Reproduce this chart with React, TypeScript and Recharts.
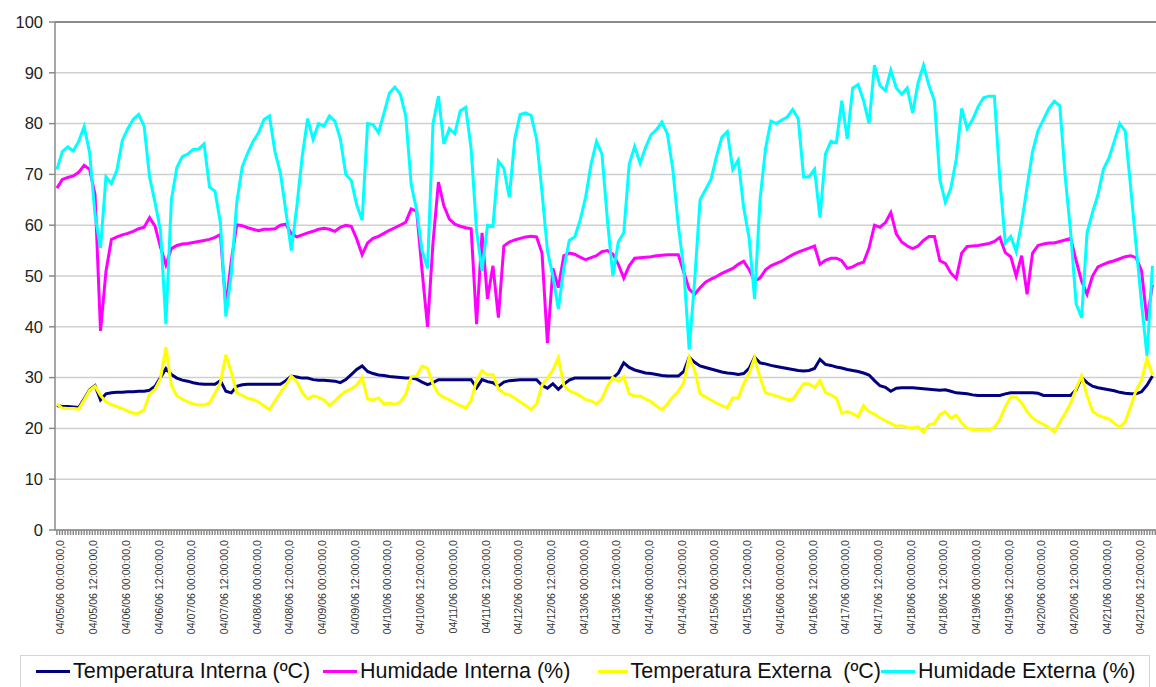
import { CartesianGrid, Line, LineChart, ReferenceLine, XAxis, YAxis } from "recharts";

// readings every 2 hours starting 04/05/06 00:00
const startHour = 0;
const stepHours = 2;

const tempInterna = [
  24.5, 24.3, 24.3, 24.2, 24.1,
  25.8, 27.6, 28.4, 25.6, 26.8,
  27.0, 27.1, 27.1, 27.2, 27.2, 27.3, 27.3, 27.5, 28.3, 30.0,
  31.8, 30.6, 29.9, 29.5, 29.3, 29.0, 28.8, 28.7, 28.7, 28.7,
  29.4, 27.3, 27.0, 28.3, 28.6, 28.7, 28.7, 28.7, 28.7, 28.7,
  28.7, 28.7, 29.4, 30.3, 30.1, 29.9, 29.9, 29.6, 29.5, 29.5,
  29.4, 29.3, 29.0, 29.6, 30.6, 31.6, 32.3, 31.2, 30.8, 30.5,
  30.4, 30.2, 30.1, 30.0, 29.9, 29.9, 29.7, 29.1, 28.6, 29.0,
  29.6, 29.6, 29.6, 29.6, 29.6, 29.6, 29.6, 28.0, 29.6, 29.2,
  29.0, 28.3, 29.1, 29.4, 29.5, 29.6, 29.6, 29.6, 29.6, 28.5,
  27.9, 28.8, 27.7, 28.7, 29.5, 29.9, 29.9, 29.9, 29.9, 29.9,
  29.9, 29.9, 29.9, 30.9, 32.9, 32.0, 31.5, 31.2, 30.9, 30.8,
  30.6, 30.4, 30.3, 30.3, 30.3, 31.2, 34.0, 33.0, 32.3, 32.0,
  31.7, 31.4, 31.1, 30.9, 30.8, 30.6, 30.8, 31.8, 34.0, 32.9,
  32.7, 32.4, 32.2, 32.0, 31.8, 31.6, 31.4, 31.3, 31.4, 31.8,
  33.6, 32.6, 32.4, 32.1, 31.9, 31.6, 31.4, 31.2, 30.9, 30.5,
  29.4, 28.4, 28.1, 27.3, 27.9, 28.0, 28.0, 28.0, 27.9, 27.8,
  27.7, 27.6, 27.5, 27.6, 27.3, 27.0, 26.9, 26.8, 26.6, 26.5,
  26.5, 26.5, 26.5, 26.5, 26.8, 27.0, 27.0, 27.0, 27.0, 27.0,
  26.9, 26.5, 26.5, 26.5, 26.5, 26.5, 26.5, 27.6, 30.0, 29.0,
  28.3, 28.0, 27.8, 27.6, 27.4, 27.1, 26.9, 26.8, 26.8, 27.2,
  28.5, 30.3,
];

const humidadeInterna = [
  67.3, 69.0, 69.4, 69.7, 70.4,
  71.8, 71.0, 66.0, 39.2, 50.9,
  57.2, 57.7, 58.1, 58.4, 58.8, 59.3, 59.6, 61.5, 59.8, 55.7,
  52.2, 55.4, 56.0, 56.3, 56.4, 56.6, 56.8, 57.0, 57.2, 57.6,
  58.2, 44.0, 53.0, 60.1, 59.9, 59.5, 59.2, 58.9, 59.2, 59.2,
  59.3, 60.0, 60.2, 58.3, 57.7, 58.1, 58.5, 58.8, 59.2, 59.4,
  59.2, 58.8, 59.6, 60.0, 59.8, 57.3, 54.2, 56.5, 57.4, 57.8,
  58.4, 59.0, 59.5, 60.0, 60.6, 63.2, 62.8, 51.0, 40.0, 56.5,
  68.5, 63.8, 61.2, 60.2, 59.8, 59.5, 59.3, 40.5, 58.5, 45.5,
  52.0, 41.8, 55.9, 56.7, 57.1, 57.4, 57.7, 57.8, 57.7, 54.5,
  36.8, 51.5, 47.7, 54.0, 54.5, 54.3, 53.7, 53.2, 53.6, 54.0,
  54.8, 55.0, 54.3, 52.3, 49.6, 52.0, 53.5, 53.6, 53.7, 53.8,
  54.0, 54.1, 54.2, 54.2, 54.2, 50.8, 47.4, 46.4, 47.7, 48.8,
  49.4, 49.9, 50.5, 51.0, 51.5, 52.3, 52.9, 51.3, 49.0, 49.6,
  51.2, 52.0, 52.5, 52.9, 53.6, 54.2, 54.7, 55.1, 55.5, 55.9,
  52.3, 53.1, 53.5, 53.5, 53.0, 51.5, 51.8, 52.4, 52.7, 55.5,
  60.0, 59.6, 60.5, 62.5, 58.3, 56.7, 55.9, 55.4, 55.9, 57.0,
  57.8, 57.8, 53.0, 52.5, 50.6, 49.5, 54.5, 55.8, 55.9, 56.0,
  56.2, 56.4, 56.8, 57.6, 54.6, 53.8, 50.0, 54.0, 46.4, 54.5,
  56.0, 56.3, 56.5, 56.5, 56.8, 57.1, 57.4, 53.0, 49.0, 46.4,
  50.0, 51.8, 52.3, 52.7, 53.0, 53.4, 53.8, 54.0, 53.6, 51.0,
  41.2, 48.3,
];

const tempExterna = [
  24.8, 24.0, 23.9, 23.9, 23.8,
  25.6, 27.5, 28.3, 26.5, 25.2,
  24.7, 24.3, 23.9, 23.4, 23.0, 23.0, 23.7, 26.8, 27.7, 29.8,
  36.0, 28.5, 26.4, 25.8, 25.2, 24.8, 24.6, 24.6, 25.0, 26.9,
  29.0, 34.5, 31.0, 27.0, 26.5, 25.9, 25.7, 25.2, 24.4, 23.7,
  25.4, 27.0, 28.5, 30.3, 29.3, 27.1, 25.8, 26.4, 26.1, 25.6,
  24.5, 25.4, 26.5, 27.3, 27.8, 28.5, 30.0, 25.8, 25.6, 26.0,
  24.8, 25.0, 24.7, 25.2, 26.7, 30.2, 30.3, 32.3, 31.8, 28.7,
  26.8, 26.1, 25.6, 25.0, 24.5, 24.0, 25.5, 29.5, 31.4, 30.5,
  30.6, 27.8, 26.9, 26.6, 26.0, 25.2, 24.5, 23.7, 24.8, 28.5,
  29.9, 31.5, 33.9, 28.5, 27.4, 27.0, 26.4, 25.7, 25.4, 24.8,
  25.8, 28.3, 30.0, 29.3, 30.2, 26.8, 26.4, 26.4, 25.8, 25.3,
  24.4, 23.7, 24.8, 26.2, 27.3, 29.0, 34.0, 31.5, 26.8, 26.2,
  25.6, 25.0, 24.5, 24.1, 26.0, 26.0, 28.8, 30.8, 33.9, 30.0,
  27.0, 26.7, 26.4, 26.0, 25.7, 25.7, 27.3, 28.8, 28.8, 28.0,
  29.4, 27.1, 26.6, 26.0, 23.0, 23.3, 22.9, 22.3, 24.5, 23.3,
  22.8, 22.1, 21.5, 21.0, 20.4, 20.5, 20.2, 20.1, 20.3, 19.3,
  20.7, 21.0, 22.7, 23.3, 22.0, 22.6, 21.1, 20.0, 19.8, 19.7,
  19.7, 19.7, 20.2, 21.8, 24.3, 26.2, 26.2, 25.0, 23.3, 22.0,
  21.3, 20.8, 20.2, 19.3, 21.2, 23.0, 25.0, 27.8, 30.3, 26.5,
  23.4, 22.6, 22.2, 21.9, 21.0, 20.2, 21.3, 24.3, 27.5, 29.5,
  33.8, 30.5,
];

const humidadeExterna = [
  71.0, 74.5, 75.4, 74.6, 76.5,
  79.4, 74.3, 62.0, 55.5, 69.5,
  68.2, 70.8, 76.7, 79.0, 80.8, 81.8, 79.5, 69.5, 64.5, 59.0,
  40.5, 65.0, 71.3, 73.5, 74.0, 74.9, 75.0, 76.0, 67.5, 66.7,
  60.5, 42.0, 50.5, 64.5, 71.5, 74.2, 76.5, 78.2, 80.8, 81.5,
  74.5, 70.3, 62.8, 55.0, 63.5, 73.5, 81.0, 76.9, 80.0, 79.5,
  81.5, 80.5, 77.0, 70.0, 68.8, 64.0, 61.0, 80.0, 79.8, 78.2,
  82.0, 86.0, 87.2, 85.8, 81.5, 68.0, 63.0, 55.0, 51.5, 80.0,
  85.4, 76.0, 79.0, 78.0, 82.5, 83.2, 75.0, 58.8, 51.0, 60.0,
  59.8, 72.6, 71.2, 65.5, 77.0, 81.8, 82.1, 81.6, 77.0, 66.5,
  55.0, 50.0, 43.5, 51.5, 57.0, 57.7, 61.0, 65.5, 72.0, 76.5,
  74.0, 61.0, 50.0, 56.7, 58.5, 72.0, 75.5, 72.2, 75.3, 77.8,
  78.8, 80.3, 78.0, 71.0, 60.0, 51.5, 35.5, 49.0, 65.0, 67.0,
  69.0, 73.5, 77.3, 78.4, 71.0, 72.8, 63.5, 57.5, 45.5, 65.0,
  75.0, 80.5, 80.0, 80.7, 81.3, 82.8, 81.0, 69.5, 69.5, 71.0,
  61.5, 74.0, 76.5, 76.2, 84.5, 77.0, 87.0, 87.7, 84.5, 80.0,
  91.5, 87.5, 86.5, 90.5, 87.0, 85.8, 87.0, 82.1, 88.0, 91.5,
  87.5, 84.5, 69.0, 64.5, 67.2, 73.0, 83.0, 79.0, 80.8, 83.3,
  85.1, 85.4, 85.4, 69.0, 56.5, 57.8, 54.8, 60.5, 67.5, 74.5,
  78.6, 80.8, 83.0, 84.4, 83.5, 69.5, 58.5, 44.5, 41.8, 58.5,
  62.5, 66.0, 71.0, 73.2, 76.5, 80.0, 78.5, 67.5, 56.0, 44.5,
  34.3, 52.0,
];

const tickLabels = [
  "04/05/06 00:00:00,0", "04/05/06 12:00:00,0",
  "04/06/06 00:00:00,0", "04/06/06 12:00:00,0",
  "04/07/06 00:00:00,0", "04/07/06 12:00:00,0",
  "04/08/06 00:00:00,0", "04/08/06 12:00:00,0",
  "04/09/06 00:00:00,0", "04/09/06 12:00:00,0",
  "04/10/06 00:00:00,0", "04/10/06 12:00:00,0",
  "04/11/06 00:00:00,0", "04/11/06 12:00:00,0",
  "04/12/06 00:00:00,0", "04/12/06 12:00:00,0",
  "04/13/06 00:00:00,0", "04/13/06 12:00:00,0",
  "04/14/06 00:00:00,0", "04/14/06 12:00:00,0",
  "04/15/06 00:00:00,0", "04/15/06 12:00:00,0",
  "04/16/06 00:00:00,0", "04/16/06 12:00:00,0",
  "04/17/06 00:00:00,0", "04/17/06 12:00:00,0",
  "04/18/06 00:00:00,0", "04/18/06 12:00:00,0",
  "04/19/06 00:00:00,0", "04/19/06 12:00:00,0",
  "04/20/06 00:00:00,0", "04/20/06 12:00:00,0",
  "04/21/06 00:00:00,0", "04/21/06 12:00:00,0",
];
const labelEvery = 12; // hours between labels
const yTicks = [0, 10, 20, 30, 40, 50, 60, 70, 80, 90, 100];

const series = [
  { key: "ti", name: "Temperatura Interna (ºC)", color: "#000080", legendWidth: 287 },
  { key: "hi", name: "Humidade Interna (%)", color: "#FF00FF", legendWidth: 275 },
  { key: "te", name: "Temperatura Externa  (ºC)", color: "#FFFF00", legendWidth: 283 },
  { key: "he", name: "Humidade Externa (%)", color: "#00FFFF", legendWidth: 270 },
];

const data = tempInterna.map((v, i) => ({
  h: startHour + i * stepHours,
  ti: v,
  hi: humidadeInterna[i],
  te: tempExterna[i],
  he: humidadeExterna[i],
}));

// one small tick mark per hour, as in the original category axis
const hourTicks = Array.from({ length: 404 }, (_, i) => i);

const FONT = "'Liberation Sans', Arial, sans-serif";

function HourTick({ x, y, payload }: any) {
  const v = payload.value;
  if (v % labelEvery !== 0) return <g />;
  const label = tickLabels[v / labelEvery];
  if (!label) return <g />;
  return (
    <text
      x={x}
      y={y + 3}
      dy={7.5}
      transform={`rotate(-90 ${x} ${y + 3})`}
      textAnchor="end"
      fontSize={10.6}
      fontFamily={FONT}
      fill="#333"
    >
      {label}
    </text>
  );
}

export default function App() {
  return (
    <div style={{ position: "absolute", left: 0, top: 0, width: 1156, height: 687, background: "#fff", overflow: "hidden" }}>
      <LineChart width={1156} height={650} data={data} margin={{ top: 22, right: 0, left: 0, bottom: 0 }}>
        <CartesianGrid vertical={false} stroke="#d0d0d0" strokeWidth={1.5} />
        <XAxis
          dataKey="h"
          type="number"
          domain={[-0.7, 403.3]}
          ticks={hourTicks}
          interval={0}
          tick={<HourTick />}
          tickSize={5}
          height={120}
          stroke="#8a8a8a"
          strokeWidth={1.5}
        />
        <YAxis
          domain={[0, 100]}
          ticks={yTicks}
          width={55}
          tickSize={6}
          tickMargin={6}
          stroke="#8a8a8a"
          strokeWidth={1.5}
          tick={{ fontSize: 16.5, fill: "#222", fontFamily: FONT }}
        />
        <ReferenceLine y={100} stroke="#8a8a8a" strokeWidth={2} />
        {series.map((s) => (
          <Line
            key={s.key}
            dataKey={s.key}
            name={s.name}
            stroke={s.color}
            strokeWidth={3}
            dot={false}
            type="linear"
            isAnimationActive={false}
          />
        ))}
      </LineChart>
      <div
        style={{
          position: "absolute",
          left: 20,
          top: 655,
          width: 1130,
          height: 40,
          border: "1px solid #d4d4d4",
          display: "flex",
          alignItems: "center",
          fontFamily: FONT,
          fontSize: 21.5,
          color: "#111",
          boxSizing: "border-box",
          paddingLeft: 15,
          paddingBottom: 8,
        }}
      >
        {series.map((s) => (
          <div key={s.key} style={{ display: "flex", alignItems: "center", width: s.legendWidth, flex: "none" }}>
            <span style={{ display: "inline-block", width: 34, height: 3, background: s.color, marginRight: 3 }} />
            <span style={{ whiteSpace: "pre" }}>{s.name}</span>
          </div>
        ))}
      </div>
    </div>
  );
}
